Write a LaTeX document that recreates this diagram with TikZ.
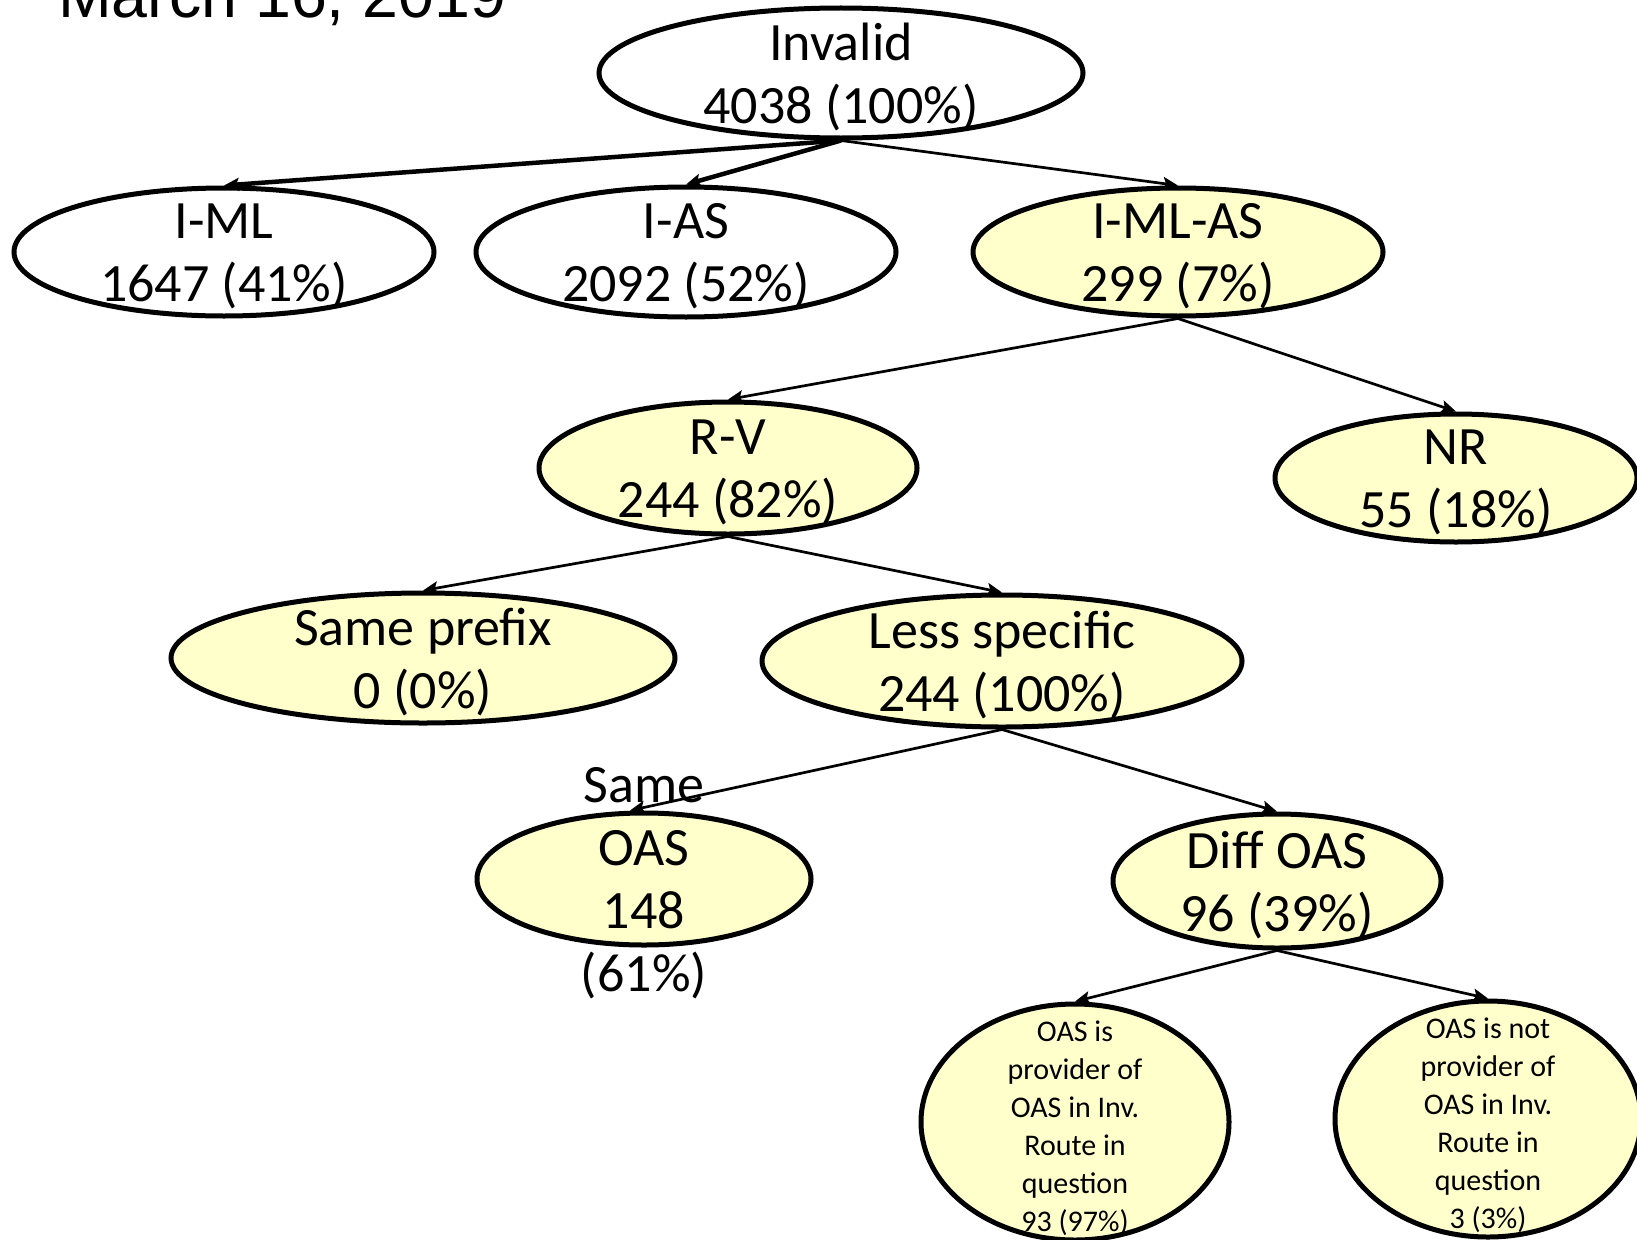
\documentclass[tikz,border=0pt]{standalone}
\usepackage{fontspec}
\setmainfont{Carlito}
\newfontfamily\datefont{Liberation Sans}
\usetikzlibrary{shapes.geometric,arrows.meta}
\definecolor{paleyellow}{HTML}{FFFFCC}
\tikzset{
  oval/.style={ellipse, draw, line width=5pt, inner sep=0pt, fill=white},
  ovalY/.style={oval, fill=paleyellow},
  lbl/.style={align=center, inner sep=0pt, font=\fontsize{54}{63}\selectfont, yshift=-4pt},
  smalllbl/.style={align=center, inner sep=0pt, font=\fontsize{30}{38}\selectfont, yshift=-6pt},
  arr/.style={-{Stealth[length=15pt,width=13pt,inset=3pt]}, line width=2.7pt},
  arrthick/.style={arr, line width=4.5pt},
}
\begin{document}
\begin{tikzpicture}[x=1pt, y=-1pt]
    \clip (0,0) rectangle (1637,1239);
    \fill[white] (0,0) rectangle (1637,1239);

    % date
    \node[anchor=base west, inner sep=0pt, font=\datefont\fontsize{64.5}{64.5}\selectfont] (date) at (58,18) {March 16, 2019};

    % top level
    \node[oval, minimum width=484pt, minimum height=130pt] (inv) at (841,73) {};
    \node[oval, minimum width=420pt, minimum height=128pt] (iml) at (224,252) {};
    \node[oval, minimum width=420pt, minimum height=130pt] (ias) at (686,252) {};
    \node[ovalY, minimum width=410pt, minimum height=128pt] (imlas) at (1178,252) {};
    \node[lbl] (invtxt) at (inv) {Invalid\\4038 (100\%)};
    \node[lbl] (imltxt) at (iml) {I-ML\\1647 (41\%)};
    \node[lbl] (iastxt) at (ias) {I-AS\\2092 (52\%)};
    \node[lbl] (imlastxt) at (imlas) {I-ML-AS\\299 (7\%)};

    % I-ML-AS split
    \node[ovalY, minimum width=378pt, minimum height=132pt] (rv) at (728,468) {};
    \node[ovalY, minimum width=362pt, minimum height=128pt] (nr) at (1456,478) {};
    \node[lbl] (rvtxt) at (rv) {R-V\\244 (82\%)};
    \node[lbl] (nrtxt) at (nr) {NR\\55 (18\%)};

    % R-V split
    \node[ovalY, minimum width=504pt, minimum height=130pt] (samep) at (423,658) {};
    \node[ovalY, minimum width=480pt, minimum height=132pt] (lesss) at (1002,661) {};
    \node[lbl] (sameptxt) at (samep) {Same prefix\\0 (0\%)};
    \node[lbl] (lessstxt) at (lesss) {Less specific\\244 (100\%)};

    % origin AS
    \node[ovalY, minimum width=334pt, minimum height=132pt] (soas) at (644,879) {};
    \node[ovalY, minimum width=328pt, minimum height=134pt] (doas) at (1277,881) {};
    \node[lbl] (soastxt) at (soas) {Same\\OAS\\148\\(61\%)};
    \node[lbl] (doastxt) at (doas) {Diff OAS\\96 (39\%)};

    % provider or not
    \node[ovalY, minimum width=308pt, minimum height=236pt] (prov) at (1075,1122) {};
    \node[ovalY, minimum width=306pt, minimum height=236pt] (nprov) at (1488,1119) {};
    \node[smalllbl] (provtxt) at (prov) {OAS is\\provider of\\OAS in Inv.\\Route in\\question\\93 (97\%)};
    \node[smalllbl] (nprovtxt) at (nprov) {OAS is not\\provider of\\OAS in Inv.\\Route in\\question\\3 (3\%)};

    % arrows
    \draw[arrthick] (inv.south) -- (iml.north);
    \draw[arrthick] (inv.south) -- (ias.north);
    \draw[arr] (inv.south) -- (imlas.north);
    \draw[arr] (imlas.south) -- (rv.north);
    \draw[arr] (imlas.south) -- (nr.north);
    \draw[arr] (rv.south) -- (samep.north);
    \draw[arr] (rv.south) -- (lesss.north);
    \draw[arr] (lesss.south) -- ([xshift=-14pt]soas.north);
    \draw[arr] (lesss.south) -- (doas.north);
    \draw[arr] (doas.south) -- (prov.north);
    \draw[arr] (doas.south) -- (nprov.north);
\end{tikzpicture}
\end{document}
